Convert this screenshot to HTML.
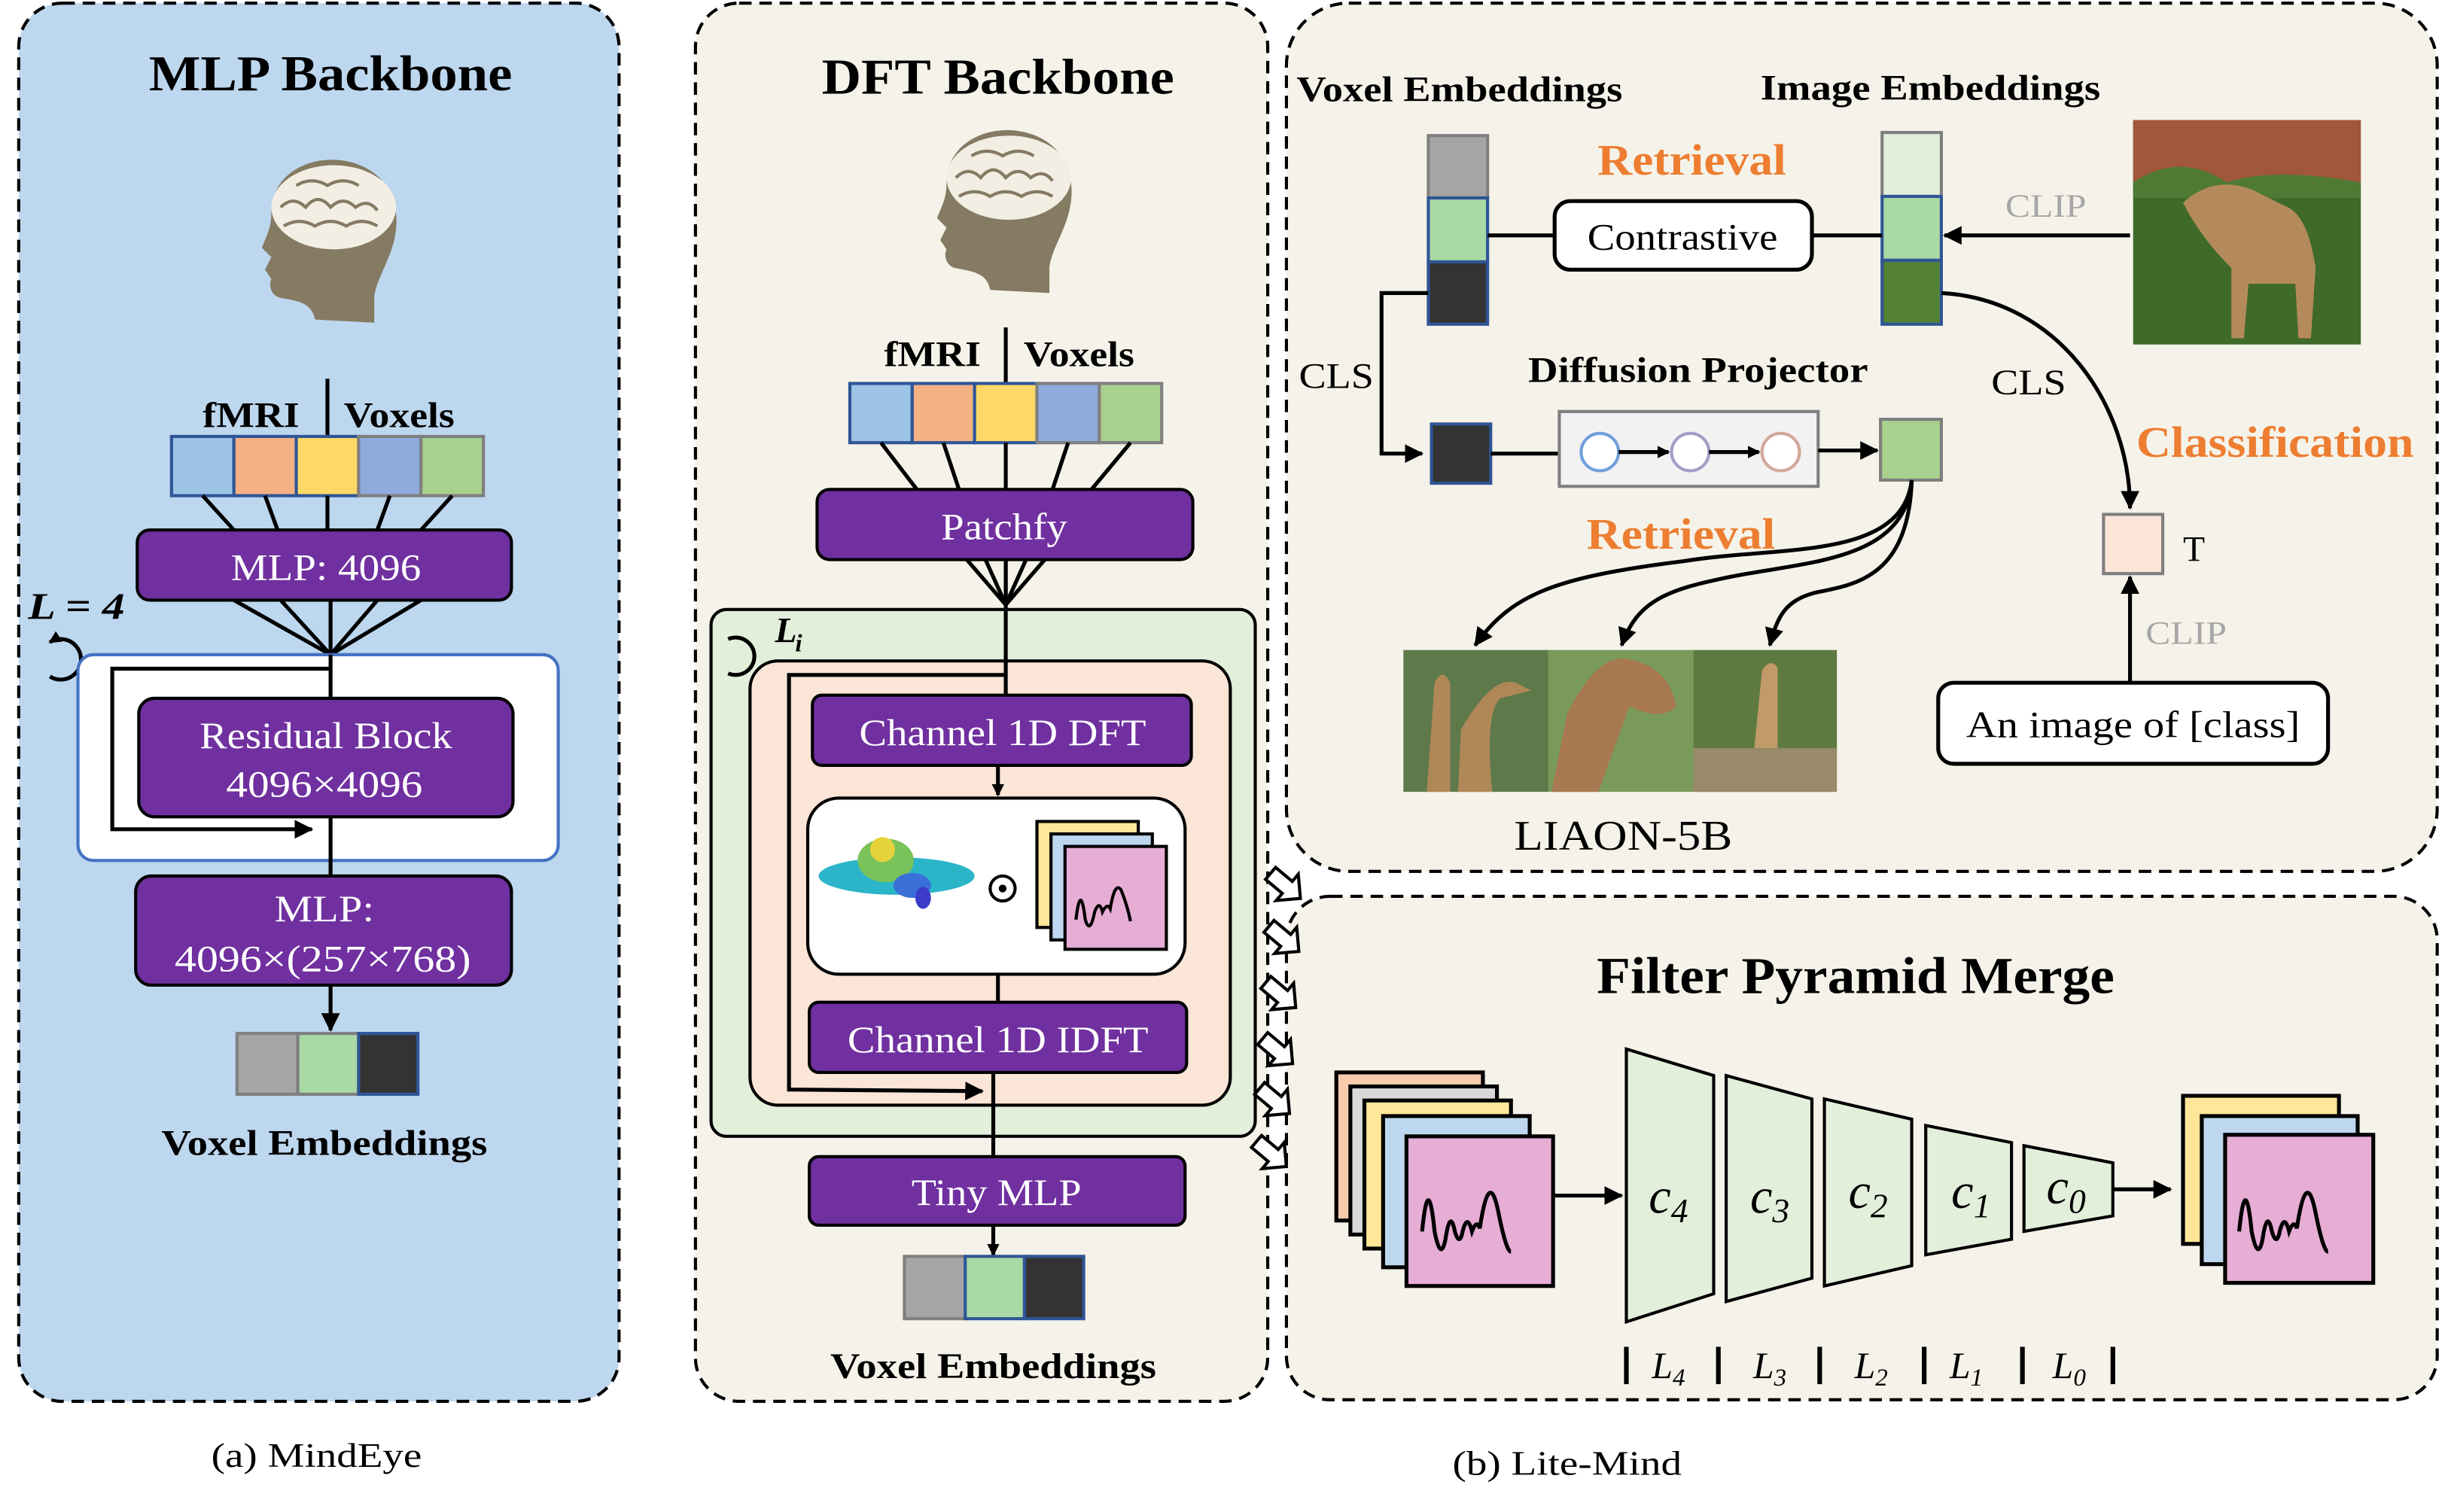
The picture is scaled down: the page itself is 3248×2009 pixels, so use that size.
<!DOCTYPE html>
<html><head><meta charset="utf-8"><style>
html,body{margin:0;padding:0;background:#fff}
svg{display:block}
text{font-family:"Liberation Serif",serif}
</style></head><body>
<svg width="3248" height="2009" viewBox="0 0 1568 970" preserveAspectRatio="none" xmlns="http://www.w3.org/2000/svg">
<defs>
<marker id="ah" markerWidth="8" markerHeight="8" refX="7" refY="4" orient="auto" markerUnits="userSpaceOnUse"><path d="M0,0 L8,4 L0,8 Z" fill="#000"/></marker>
<marker id="ahb" markerWidth="12" markerHeight="12" refX="11" refY="6" orient="auto" markerUnits="userSpaceOnUse"><path d="M0,0 L12,6 L0,12 Z" fill="#000"/></marker>
</defs>
<rect width="1568" height="970" fill="#fff"/>
<rect x="12" y="2" width="385" height="897" rx="28" fill="#bdd7ee" stroke="#000" stroke-width="2" stroke-dasharray="8,5"/>
<rect x="446" y="2" width="367" height="897" rx="28" fill="#f5f3e9" stroke="#000" stroke-width="2" stroke-dasharray="8,5"/>
<rect x="825" y="2" width="738" height="557" rx="40" fill="#f5f3e9" stroke="#000" stroke-width="2" stroke-dasharray="8,5"/>
<rect x="825" y="575" width="738" height="323" rx="28" fill="#f5f3e9" stroke="#000" stroke-width="2" stroke-dasharray="8,5"/>

<!-- ===== Panel A ===== -->
<text x="212" y="58" font-size="32" font-weight="bold" text-anchor="middle" textLength="233" lengthAdjust="spacingAndGlyphs">MLP Backbone</text>
<g transform="translate(210,155)">
<path d="M-8,50 C-10,38 -22,38 -30,36 C-36,35 -38,28 -36,24 L-40,18 L-36,10 L-42,4 C-40,-2 -36,-8 -36,-18 C-36,-45 -10,-55 10,-52 C36,-48 46,-28 44,-8 C42,10 32,22 30,35 L30,52 Z" fill="#857a62"/>
<ellipse cx="4" cy="-22" rx="40" ry="27" fill="#f2eee4"/>
<path d="M-30,-22 q8,-8 16,0 q8,-10 16,0 q8,-8 16,0 q8,-6 14,2 M-28,-10 q10,-6 20,0 q10,-6 20,0 q10,-6 20,0 M-20,-36 q10,-6 20,0 q10,-6 20,0" fill="none" stroke="#857a62" stroke-width="2"/>
</g>
<text x="161" y="274" font-size="23" font-weight="bold" text-anchor="middle" textLength="62" lengthAdjust="spacingAndGlyphs">fMRI</text>
<text x="256" y="274" font-size="23" font-weight="bold" text-anchor="middle" textLength="71" lengthAdjust="spacingAndGlyphs">Voxels</text>
<line x1="210" y1="243" x2="210" y2="280" stroke="#000" stroke-width="2.5"/>
<g stroke-width="2">
<rect x="110" y="280" width="40" height="38" fill="#9dc3e6" stroke="#2f5597"/>
<rect x="150" y="280" width="40" height="38" fill="#f4b183" stroke="#2f5597"/>
<rect x="190" y="280" width="40" height="38" fill="#ffd966" stroke="#2f5597"/>
<rect x="230" y="280" width="40" height="38" fill="#8faadc" stroke="#7f7f7f"/>
<rect x="270" y="280" width="40" height="38" fill="#a9d18e" stroke="#7f7f7f"/>
</g>
<g stroke="#000" stroke-width="2.5">
<line x1="130" y1="318" x2="150" y2="340"/><line x1="170" y1="318" x2="178" y2="340"/><line x1="210" y1="318" x2="210" y2="340"/><line x1="250" y1="318" x2="242" y2="340"/><line x1="290" y1="318" x2="270" y2="340"/>
<line x1="150" y1="385" x2="212" y2="420"/><line x1="180" y1="385" x2="212" y2="420"/><line x1="212" y1="385" x2="212" y2="420"/><line x1="242" y1="385" x2="212" y2="420"/><line x1="270" y1="385" x2="212" y2="420"/>
</g>
<rect x="88" y="340" width="240" height="45" rx="8" fill="#7030a0" stroke="#000" stroke-width="2"/>
<text x="209" y="372" font-size="24" fill="#fff" text-anchor="middle" textLength="122" lengthAdjust="spacingAndGlyphs">MLP: 4096</text>
<text x="49" y="397" font-size="24" font-style="italic" font-weight="bold" text-anchor="middle" textLength="62" lengthAdjust="spacingAndGlyphs">L = 4</text>
<path d="M52,412 A13,13 0 1 0 52,434" fill="none" stroke="#000" stroke-width="2.5" marker-end="url(#ah)" transform="rotate(180 42 423)"/>
<rect x="50" y="420" width="308" height="132" rx="10" fill="#fff" stroke="#4472c4" stroke-width="2"/>
<line x1="212" y1="420" x2="212" y2="562" stroke="#000" stroke-width="2.5"/>
<polyline points="212,429 72,429 72,532 200,532" fill="none" stroke="#000" stroke-width="2.5" marker-end="url(#ahb)"/>
<rect x="89" y="448" width="240" height="76" rx="10" fill="#7030a0" stroke="#000" stroke-width="2"/>
<text x="209" y="480" font-size="24" fill="#fff" text-anchor="middle" textLength="162" lengthAdjust="spacingAndGlyphs">Residual Block</text>
<text x="208" y="511" font-size="24" fill="#fff" text-anchor="middle" textLength="126" lengthAdjust="spacingAndGlyphs">4096×4096</text>
<rect x="87" y="562" width="241" height="70" rx="10" fill="#7030a0" stroke="#000" stroke-width="2"/>
<text x="208" y="591" font-size="24" fill="#fff" text-anchor="middle" textLength="64" lengthAdjust="spacingAndGlyphs">MLP:</text>
<text x="207" y="623" font-size="24" fill="#fff" text-anchor="middle" textLength="190" lengthAdjust="spacingAndGlyphs">4096×(257×768)</text>
<line x1="212" y1="632" x2="212" y2="661" stroke="#000" stroke-width="2.5" marker-end="url(#ahb)"/>
<g stroke-width="2">
<rect x="152" y="663" width="39" height="39" fill="#a5a5a5" stroke="#7f7f7f"/>
<rect x="191" y="663" width="39" height="39" fill="#a9d9a5" stroke="#7f7f7f"/>
<rect x="230" y="663" width="38" height="39" fill="#333" stroke="#2f5597"/>
</g>
<text x="208" y="741" font-size="23" font-weight="bold" text-anchor="middle" textLength="209" lengthAdjust="spacingAndGlyphs">Voxel Embeddings</text>
<text x="203" y="941" font-size="22" text-anchor="middle" textLength="135" lengthAdjust="spacingAndGlyphs">(a) MindEye</text>

<!-- ===== Panel DFT ===== -->
<text x="640" y="60" font-size="32" font-weight="bold" text-anchor="middle" textLength="226" lengthAdjust="spacingAndGlyphs">DFT Backbone</text>
<g transform="translate(643,136)">
<path d="M-8,50 C-10,38 -22,38 -30,36 C-36,35 -38,28 -36,24 L-40,18 L-36,10 L-42,4 C-40,-2 -36,-8 -36,-18 C-36,-45 -10,-55 10,-52 C36,-48 46,-28 44,-8 C42,10 32,22 30,35 L30,52 Z" fill="#857a62"/>
<ellipse cx="4" cy="-22" rx="40" ry="27" fill="#f2eee4"/>
<path d="M-30,-22 q8,-8 16,0 q8,-10 16,0 q8,-8 16,0 q8,-6 14,2 M-28,-10 q10,-6 20,0 q10,-6 20,0 q10,-6 20,0 M-20,-36 q10,-6 20,0 q10,-6 20,0" fill="none" stroke="#857a62" stroke-width="2"/>
</g>
<text x="598" y="235" font-size="23" font-weight="bold" text-anchor="middle" textLength="62" lengthAdjust="spacingAndGlyphs">fMRI</text>
<text x="692" y="235" font-size="23" font-weight="bold" text-anchor="middle" textLength="71" lengthAdjust="spacingAndGlyphs">Voxels</text>
<line x1="645" y1="210" x2="645" y2="246" stroke="#000" stroke-width="2.5"/>
<g stroke-width="2">
<rect x="545" y="246" width="40" height="38" fill="#9dc3e6" stroke="#2f5597"/>
<rect x="585" y="246" width="40" height="38" fill="#f4b183" stroke="#2f5597"/>
<rect x="625" y="246" width="40" height="38" fill="#ffd966" stroke="#2f5597"/>
<rect x="665" y="246" width="40" height="38" fill="#8faadc" stroke="#7f7f7f"/>
<rect x="705" y="246" width="40" height="38" fill="#a9d18e" stroke="#7f7f7f"/>
</g>
<g stroke="#000" stroke-width="2.5">
<line x1="565" y1="284" x2="588" y2="314"/><line x1="605" y1="284" x2="615" y2="314"/><line x1="645" y1="284" x2="645" y2="314"/><line x1="685" y1="284" x2="675" y2="314"/><line x1="725" y1="284" x2="700" y2="314"/>
<line x1="620" y1="359" x2="645" y2="388"/><line x1="632" y1="359" x2="645" y2="388"/><line x1="645" y1="359" x2="645" y2="388"/><line x1="658" y1="359" x2="645" y2="388"/><line x1="670" y1="359" x2="645" y2="388"/>
</g>
<rect x="524" y="314" width="241" height="45" rx="8" fill="#7030a0" stroke="#000" stroke-width="2"/>
<text x="644" y="346" font-size="24" fill="#fff" text-anchor="middle" textLength="81" lengthAdjust="spacingAndGlyphs">Patchfy</text>
<rect x="456" y="391" width="349" height="338" rx="10" fill="#e2efda" stroke="#000" stroke-width="2"/>
<text x="497" y="412" font-size="23" font-style="italic" font-weight="bold">L</text>
<text x="510" y="418" font-size="16" font-style="italic" font-weight="bold">i</text>
<path d="M487,410 A12,12 0 1 0 487,432" fill="none" stroke="#000" stroke-width="2.5" transform="rotate(180 477 421)"/>
<rect x="481" y="424" width="308" height="285" rx="18" fill="#fbe5d6" stroke="#000" stroke-width="2"/>
<line x1="645" y1="359" x2="645" y2="446" stroke="#000" stroke-width="2.5"/>
<polyline points="645,433 506,433 506,699 630,700" fill="none" stroke="#000" stroke-width="2.5" marker-end="url(#ahb)"/>
<rect x="521" y="446" width="243" height="45" rx="6" fill="#7030a0" stroke="#000" stroke-width="2"/>
<text x="643" y="478" font-size="24" fill="#fff" text-anchor="middle" textLength="184" lengthAdjust="spacingAndGlyphs">Channel 1D DFT</text>
<line x1="640" y1="491" x2="640" y2="510" stroke="#000" stroke-width="2.5" marker-end="url(#ah)"/>
<rect x="518" y="512" width="242" height="113" rx="20" fill="#fff" stroke="#000" stroke-width="2"/>
<ellipse cx="575" cy="562" rx="50" ry="12" fill="#2bb5c9"/>
<ellipse cx="568" cy="552" rx="18" ry="14" fill="#7ac35a"/>
<ellipse cx="566" cy="545" rx="8" ry="8" fill="#e6d23a"/>
<ellipse cx="585" cy="568" rx="12" ry="8" fill="#3a6fd8"/>
<ellipse cx="592" cy="576" rx="5" ry="7" fill="#3b3bc8"/>
<circle cx="643" cy="570" r="8" fill="none" stroke="#000" stroke-width="2"/><circle cx="643" cy="570" r="2.5" fill="#000"/>
<rect x="665" y="527" width="65" height="68" fill="#ffe699" stroke="#000" stroke-width="2"/>
<rect x="674" y="535" width="65" height="68" fill="#bdd7ee" stroke="#000" stroke-width="2"/>
<rect x="683" y="543" width="65" height="66" fill="#e6add5" stroke="#000" stroke-width="2"/>
<path d="M690,590 q3,-25 6,0 q3,10 6,-5 q3,-8 5,0 q3,-6 5,-2 q3,-18 7,-12 q4,10 6,20" fill="none" stroke="#000" stroke-width="2"/>
<line x1="640" y1="625" x2="640" y2="643" stroke="#000" stroke-width="2.5"/>
<rect x="519" y="643" width="242" height="45" rx="6" fill="#7030a0" stroke="#000" stroke-width="2"/>
<text x="640" y="675" font-size="24" fill="#fff" text-anchor="middle" textLength="193" lengthAdjust="spacingAndGlyphs">Channel 1D IDFT</text>
<line x1="637" y1="688" x2="637" y2="742" stroke="#000" stroke-width="2.5"/>
<rect x="519" y="742" width="241" height="44" rx="6" fill="#7030a0" stroke="#000" stroke-width="2"/>
<text x="639" y="773" font-size="24" fill="#fff" text-anchor="middle" textLength="109" lengthAdjust="spacingAndGlyphs">Tiny MLP</text>
<line x1="637" y1="786" x2="637" y2="805" stroke="#000" stroke-width="2.5" marker-end="url(#ah)"/>
<g stroke-width="2">
<rect x="580" y="806" width="39" height="40" fill="#a5a5a5" stroke="#7f7f7f"/>
<rect x="619" y="806" width="38" height="40" fill="#a9d9a5" stroke="#2f5597"/>
<rect x="657" y="806" width="38" height="40" fill="#333" stroke="#2f5597"/>
</g>
<text x="637" y="884" font-size="23" font-weight="bold" text-anchor="middle" textLength="209" lengthAdjust="spacingAndGlyphs">Voxel Embeddings</text>

<g fill="#fff" stroke="#000" stroke-width="2">
<g transform="translate(824,568) rotate(40)"><polygon points="-12,-5 2,-5 2,-11 13,0 2,11 2,5 -12,5"/></g>
<g transform="translate(823,602) rotate(40)"><polygon points="-12,-5 2,-5 2,-11 13,0 2,11 2,5 -12,5"/></g>
<g transform="translate(821,638) rotate(40)"><polygon points="-12,-5 2,-5 2,-11 13,0 2,11 2,5 -12,5"/></g>
<g transform="translate(819,674) rotate(40)"><polygon points="-12,-5 2,-5 2,-11 13,0 2,11 2,5 -12,5"/></g>
<g transform="translate(817,706) rotate(40)"><polygon points="-12,-5 2,-5 2,-11 13,0 2,11 2,5 -12,5"/></g>
<g transform="translate(815,740) rotate(40)"><polygon points="-12,-5 2,-5 2,-11 13,0 2,11 2,5 -12,5"/></g>
</g>

<!-- ===== Top right ===== -->
<text x="936" y="65" font-size="23" font-weight="bold" text-anchor="middle" textLength="209" lengthAdjust="spacingAndGlyphs">Voxel Embeddings</text>
<text x="1238" y="64" font-size="23" font-weight="bold" text-anchor="middle" textLength="218" lengthAdjust="spacingAndGlyphs">Image Embeddings</text>
<g stroke-width="2">
<rect x="916" y="87" width="38" height="40" fill="#a5a5a5" stroke="#7f7f7f"/>
<rect x="916" y="127" width="38" height="41" fill="#a9d9a5" stroke="#2f5597"/>
<rect x="916" y="168" width="38" height="40" fill="#333" stroke="#2f5597"/>
<rect x="1207" y="85" width="38" height="41" fill="#e2efda" stroke="#7f7f7f"/>
<rect x="1207" y="126" width="38" height="41" fill="#a9d9a5" stroke="#2f5597"/>
<rect x="1207" y="167" width="38" height="41" fill="#548235" stroke="#2f5597"/>
</g>
<text x="1085" y="112" font-size="28" font-weight="bold" fill="#ed7d31" text-anchor="middle" textLength="121" lengthAdjust="spacingAndGlyphs">Retrieval</text>
<line x1="954" y1="151" x2="997" y2="151" stroke="#000" stroke-width="2.5"/>
<line x1="1162" y1="151" x2="1207" y2="151" stroke="#000" stroke-width="2.5"/>
<rect x="997" y="129" width="165" height="44" rx="10" fill="#fff" stroke="#000" stroke-width="2.5"/>
<text x="1079" y="160" font-size="24" text-anchor="middle" textLength="122" lengthAdjust="spacingAndGlyphs">Contrastive</text>
<line x1="1366" y1="151" x2="1247" y2="151" stroke="#000" stroke-width="2.5" marker-end="url(#ahb)"/>
<text x="1312" y="139" font-size="21" fill="#a6a6a6" text-anchor="middle" textLength="52" lengthAdjust="spacingAndGlyphs">CLIP</text>
<rect x="1368" y="77" width="146" height="144" fill="#3f6a2a"/>
<rect x="1368" y="77" width="146" height="40" fill="#a0573a"/>
<path d="M1368,117 q30,-20 60,0 q30,-10 86,0 v10 h-146z" fill="#4f7a33"/>
<path d="M1400,130 q20,-18 45,-8 l20,10 q15,5 20,40 l-3,45 h-8 l-2,-35 h-30 l-3,35 h-8 l0,-45 q-20,-20 -31,-42z" fill="#b58a5a"/>
<text x="857" y="249" font-size="23" text-anchor="middle" textLength="48" lengthAdjust="spacingAndGlyphs">CLS</text>
<polyline points="916,188 886,188 886,291 912,291" fill="none" stroke="#000" stroke-width="2.5" marker-end="url(#ahb)"/>
<rect x="918" y="272" width="38" height="38" fill="#333" stroke="#2f5597" stroke-width="2"/>
<line x1="956" y1="291" x2="1000" y2="291" stroke="#000" stroke-width="2.5"/>
<text x="1089" y="245" font-size="23" font-weight="bold" text-anchor="middle" textLength="218" lengthAdjust="spacingAndGlyphs">Diffusion Projector</text>
<rect x="1000" y="264" width="166" height="48" fill="#f2f2f2" stroke="#7f7f7f" stroke-width="2"/>
<circle cx="1026" cy="290" r="12" fill="#fff" stroke="#6fa0dc" stroke-width="2"/>
<circle cx="1084" cy="290" r="12" fill="#fff" stroke="#a79bc7" stroke-width="2"/>
<circle cx="1142" cy="290" r="12" fill="#fff" stroke="#d3a89a" stroke-width="2"/>
<line x1="1038" y1="290" x2="1070" y2="290" stroke="#000" stroke-width="2.5" marker-end="url(#ah)"/>
<line x1="1096" y1="290" x2="1128" y2="290" stroke="#000" stroke-width="2.5" marker-end="url(#ah)"/>
<line x1="1166" y1="289" x2="1204" y2="289" stroke="#000" stroke-width="2.5" marker-end="url(#ahb)"/>
<rect x="1206" y="269" width="39" height="39" fill="#a9d18e" stroke="#7f7f7f" stroke-width="2"/>
<g fill="none" stroke="#000" stroke-width="2.5">
<path d="M1226,308 C1220,360 1140,350 1080,360 C1000,370 970,380 946,414" marker-end="url(#ahb)"/>
<path d="M1226,308 C1222,360 1160,360 1110,370 C1070,378 1050,385 1040,414" marker-end="url(#ahb)"/>
<path d="M1226,308 C1224,370 1190,375 1165,380 C1145,385 1140,395 1135,414" marker-end="url(#ahb)"/>
</g>
<text x="1078" y="352" font-size="28" font-weight="bold" fill="#ed7d31" text-anchor="middle" textLength="121" lengthAdjust="spacingAndGlyphs">Retrieval</text>
<rect x="900" y="417" width="93" height="91" fill="#5f7a4a"/>
<path d="M915,508 l5,-70 q5,-10 10,0 l0,70z M935,508 l2,-40 q20,-35 35,-30 l10,5 -20,5 q-10,10 -5,60z" fill="#b08858"/>
<rect x="993" y="417" width="93" height="91" fill="#7a9a5a"/>
<path d="M995,508 l10,-50 q20,-40 40,-35 q25,5 30,30 q-10,10 -30,0 l-20,55z" fill="#a87850"/>
<rect x="1086" y="417" width="92" height="91" fill="#5d7a40"/>
<path d="M1125,480 l5,-50 q5,-8 10,-2 l0,52 z" fill="#c09a68"/>
<rect x="1086" y="480" width="92" height="28" fill="#9a8a6a"/>
<text x="1041" y="545" font-size="27" text-anchor="middle" textLength="140" lengthAdjust="spacingAndGlyphs">LIAON-5B</text>
<text x="1301" y="253" font-size="23" text-anchor="middle" textLength="48" lengthAdjust="spacingAndGlyphs">CLS</text>
<path d="M1245,188 C1320,192 1366,260 1366,326" fill="none" stroke="#000" stroke-width="2.5" marker-end="url(#ahb)"/>
<text x="1459" y="293" font-size="28" font-weight="bold" fill="#ed7d31" text-anchor="middle" textLength="178" lengthAdjust="spacingAndGlyphs">Classification</text>
<rect x="1349" y="330" width="38" height="38" fill="#fbe5d6" stroke="#7f7f7f" stroke-width="2"/>
<text x="1407" y="360" font-size="23" text-anchor="middle">T</text>
<line x1="1366" y1="438" x2="1366" y2="370" stroke="#000" stroke-width="2.5" marker-end="url(#ahb)"/>
<text x="1402" y="413" font-size="21" fill="#a6a6a6" text-anchor="middle" textLength="52" lengthAdjust="spacingAndGlyphs">CLIP</text>
<rect x="1243" y="438" width="250" height="52" rx="10" fill="#fff" stroke="#000" stroke-width="2.5"/>
<text x="1368" y="473" font-size="24" text-anchor="middle" textLength="214" lengthAdjust="spacingAndGlyphs">An image of  [class]</text>

<!-- ===== Bottom right ===== -->
<text x="1190" y="637" font-size="33" font-weight="bold" text-anchor="middle" textLength="332" lengthAdjust="spacingAndGlyphs">Filter Pyramid Merge</text>
<g stroke="#000" stroke-width="2.5">
<rect x="857" y="688" width="94" height="95" fill="#f8cbad"/>
<rect x="866" y="697" width="94" height="95" fill="#d9d9d9"/>
<rect x="875" y="706" width="94" height="95" fill="#ffe699"/>
<rect x="887" y="716" width="94" height="97" fill="#bdd7ee"/>
<rect x="902" y="729" width="94" height="96" fill="#e6add5"/>
</g>
<path d="M912,790 q4,-40 8,0 q4,20 7,5 q3,-20 6,-5 q3,10 5,0 q3,-12 6,0 q3,-8 5,-2 q6,-40 12,-10 q5,25 8,25" fill="none" stroke="#000" stroke-width="2.5"/>
<line x1="996" y1="767" x2="1040" y2="767" stroke="#000" stroke-width="2.5" marker-end="url(#ahb)"/>
<g fill="#e2efda" stroke="#000" stroke-width="2">
<polygon points="1043,673 1099,690 1099,830 1043,848"/>
<polygon points="1107,690 1162,705 1162,820 1107,835"/>
<polygon points="1170,705 1226,718 1226,812 1170,825"/>
<polygon points="1235,722 1290,733 1290,795 1235,805"/>
<polygon points="1298,735 1355,746 1355,780 1298,790"/>
</g>
<g font-size="32" font-style="italic" text-anchor="middle">
<text x="1070" y="778">c<tspan font-size="22" dy="6">4</tspan></text>
<text x="1135" y="778">c<tspan font-size="22" dy="6">3</tspan></text>
<text x="1198" y="775">c<tspan font-size="22" dy="6">2</tspan></text>
<text x="1264" y="775">c<tspan font-size="22" dy="6">1</tspan></text>
<text x="1325" y="772">c<tspan font-size="22" dy="6">0</tspan></text>
</g>
<line x1="1355" y1="763" x2="1392" y2="763" stroke="#000" stroke-width="2.5" marker-end="url(#ahb)"/>
<g stroke="#000" stroke-width="2.5">
<rect x="1400" y="703" width="100" height="95" fill="#ffe699"/>
<rect x="1412" y="716" width="100" height="95" fill="#bdd7ee"/>
<rect x="1427" y="728" width="95" height="95" fill="#e6add5"/>
</g>
<path d="M1436,790 q4,-40 8,0 q4,20 7,5 q3,-20 6,-5 q3,10 5,0 q3,-12 6,0 q3,-8 5,-2 q6,-40 12,-10 q5,25 8,25" fill="none" stroke="#000" stroke-width="2.5"/>
<g stroke="#000" stroke-width="3">
<line x1="1043" y1="864" x2="1043" y2="888"/><line x1="1102" y1="864" x2="1102" y2="888"/><line x1="1167" y1="864" x2="1167" y2="888"/><line x1="1234" y1="864" x2="1234" y2="888"/><line x1="1297" y1="864" x2="1297" y2="888"/><line x1="1355" y1="864" x2="1355" y2="888"/>
</g>
<g font-size="24" font-style="italic" text-anchor="middle">
<text x="1070" y="884">L<tspan font-size="16" dy="5">4</tspan></text>
<text x="1135" y="884">L<tspan font-size="16" dy="5">3</tspan></text>
<text x="1200" y="884">L<tspan font-size="16" dy="5">2</tspan></text>
<text x="1261" y="884">L<tspan font-size="16" dy="5">1</tspan></text>
<text x="1327" y="884">L<tspan font-size="16" dy="5">0</tspan></text>
</g>
<text x="1005" y="946" font-size="22" text-anchor="middle" textLength="147" lengthAdjust="spacingAndGlyphs">(b) Lite-Mind</text>
</svg>
</body></html>
